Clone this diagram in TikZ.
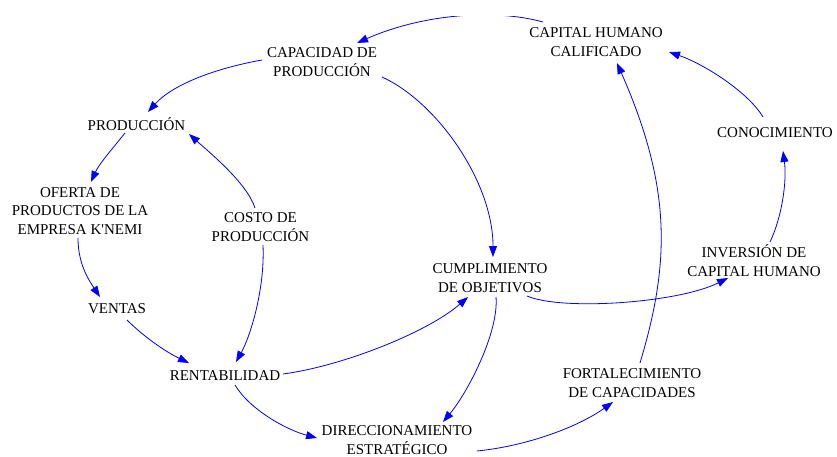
\documentclass[tikz,border=0pt]{standalone}
\usepackage{fontspec}
\setmainfont{Liberation Serif}
\usetikzlibrary{arrows.meta}
\tikzset{
  var/.style={align=center, inner sep=0pt, font=\fontsize{15}{18.8}\selectfont},
  link/.style={draw={rgb,255:red,0;green,0;blue,255}, line width=0.8pt,
    -{Triangle[length=11pt,width=8pt]}},
}
\begin{document}
\begin{tikzpicture}[x=1pt,y=1pt]
\path[use as bounding box, fill=white] (0,0) rectangle (837,-457);
\node[var] (cap)  at (322,-62.5)  {CAPACIDAD DE\\PRODUCCIÓN};
\node[var] (chc)  at (596,-42.5)  {CAPITAL HUMANO\\CALIFICADO};
\node[var] (prod) at (136.5,-124) {PRODUCCIÓN};
\node[var] (ofe)  at (80,-211)    {OFERTA DE\\PRODUCTOS DE LA\\EMPRESA K\textquotesingle NEMI};
\node[var] (cos)  at (260.5,-227) {COSTO DE\\PRODUCCIÓN};
\node[var] (ven)  at (117,-309)   {VENTAS};
\node[var] (ren)  at (225,-376)   {RENTABILIDAD};
\node[var] (cum)  at (490,-278.5) {CUMPLIMIENTO\\DE OBJETIVOS};
\node[var] (dir)  at (397,-440)   {DIRECCIONAMIENTO\\ESTRATÉGICO};
\node[var] (fort) at (632,-383)   {FORTALECIMIENTO\\DE CAPACIDADES};
\node[var] (inv)  at (754,-260.5) {INVERSIÓN DE\\CAPITAL HUMANO};
\node[var] (cono) at (775,-133)   {CONOCIMIENTO};

\begin{scope}
\clip (0,-16.5) rectangle (837,-457);
\draw[link] ([shift={(-53,20.5)}]chc.center) .. controls +(-51,14) and +(63,28) .. ([shift={(35,19.5)}]cap.center);
\end{scope}
\draw[link] ([shift={(-60,2.5)}]cap.center) .. controls +(-45,-8) and +(25,28) .. ([shift={(11.5,12)}]prod.center);
\draw[link] ([shift={(60,-14.5)}]cap.center) .. controls +(55,-25) and +(0,75) .. ([shift={(3,21.5)}]cum.center);
\draw[link] ([shift={(-11.5,-9)}]prod.center) .. controls +(-12,-15) and +(8,18) .. ([shift={(11,29)}]ofe.center);
\draw[link] ([shift={(-2,-27)}]ofe.center) .. controls +(0,-25) and +(-12,18) .. ([shift={(-17,12)}]ven.center);
\draw[link] ([shift={(10,-11)}]ven.center) .. controls +(15,-15) and +(-25,12) .. ([shift={(-36,13)}]ren.center);
\draw[link] ([shift={(-5.5,19)}]cos.center) .. controls +(-8,25) and +(20,-18) .. ([shift={(52.5,-10)}]prod.center);
\draw[link] ([shift={(2.5,-18)}]cos.center) .. controls +(2,-45) and +(14,25) .. ([shift={(11,14)}]ren.center);
\draw[link] ([shift={(58,2)}]ren.center) .. controls +(60,8) and +(-40,-35) .. ([shift={(-22,-18.5)}]cum.center);
\draw[link] ([shift={(10,-9)}]ren.center) .. controls +(15,-25) and +(-30,8) .. ([shift={(-80,2)}]dir.center);
\draw[link] ([shift={(6,-18.5)}]cum.center) .. controls +(3,-35) and +(25,30) .. ([shift={(46,18)}]dir.center);
\draw[link] ([shift={(37,-17.5)}]cum.center) .. controls +(35,-15) and +(-50,-25) .. ([shift={(-26,-17.5)}]inv.center);
\draw[link] ([shift={(80,-11)}]dir.center) .. controls +(50,5) and +(-35,-25) .. ([shift={(-19,-19)}]fort.center);
\draw[link] ([shift={(8,20)}]fort.center) .. controls +(30,100) and +(55,-125) .. ([shift={(21,-20.5)}]chc.center);
\draw[link] ([shift={(16,18.5)}]inv.center) .. controls +(12,25) and +(4,-30) .. ([shift={(8,-18)}]cono.center);
\draw[link] ([shift={(-12,16)}]cono.center) .. controls +(-15,25) and +(35,-12) .. ([shift={(73,-9.5)}]chc.center);
\end{tikzpicture}
\end{document}
